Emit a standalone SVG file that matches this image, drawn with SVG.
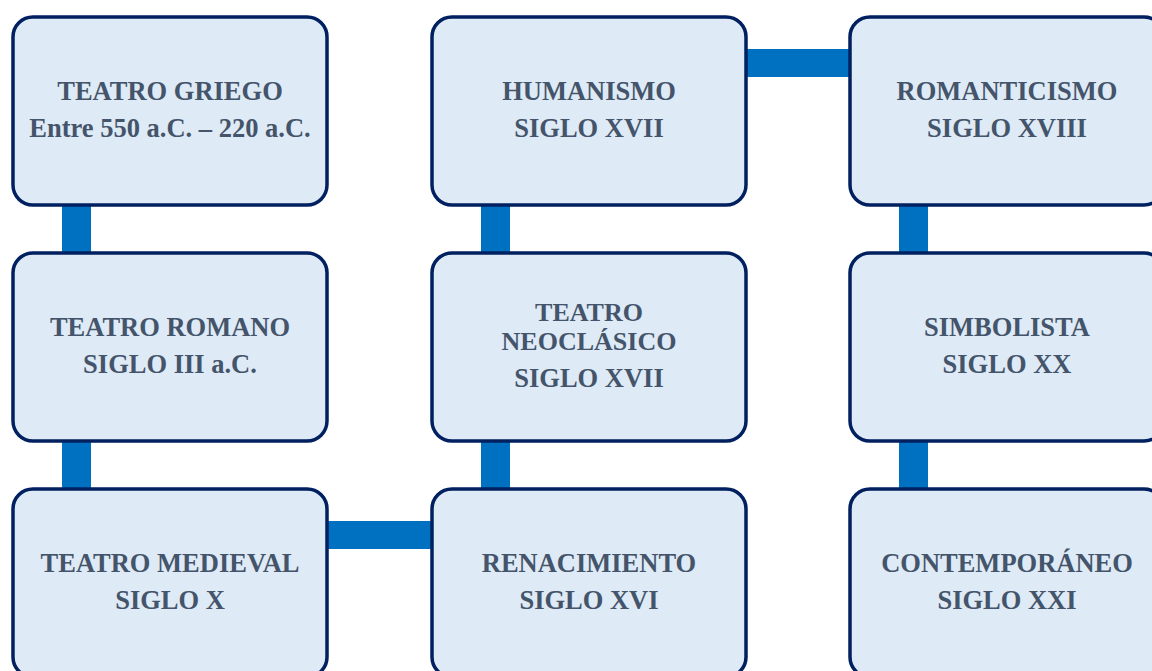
<svg xmlns="http://www.w3.org/2000/svg" width="1152" height="671" viewBox="0 0 1152 671">
<style>
.box{fill:#DEEAF6;stroke:#002060;stroke-width:3.5}
.con{fill:#0070C0}
text{font-family:"Liberation Serif","Times New Roman",serif;font-weight:bold;font-size:26.5px;fill:#44546A;text-anchor:middle}
.tight{font-size:26px}
</style>
<rect width="1152" height="671" fill="#FFFFFF"/>
<g id="connectors">
<rect class="con" x="62" y="200" width="29" height="58"/>
<rect class="con" x="62" y="436" width="29" height="58"/>
<rect class="con" x="322" y="521" width="115" height="28"/>
<rect class="con" x="481" y="436" width="29" height="58"/>
<rect class="con" x="481" y="200" width="29" height="58"/>
<rect class="con" x="740" y="49" width="115" height="28"/>
<rect class="con" x="899" y="200" width="29" height="58"/>
<rect class="con" x="899" y="436" width="29" height="58"/>
</g>
<g id="griego">
<rect class="box" x="13" y="17" width="314" height="188" rx="20"/>
<text x="170" y="100">TEATRO GRIEGO</text>
<text x="170" y="137">Entre 550 a.C. – 220 a.C.</text>
</g>
<g id="romano">
<rect class="box" x="13" y="253" width="314" height="188" rx="20"/>
<text x="170" y="336">TEATRO ROMANO</text>
<text x="170" y="373">SIGLO III a.C.</text>
</g>
<g id="medieval">
<rect class="box" x="13" y="489" width="314" height="188" rx="20"/>
<text x="170" y="572">TEATRO MEDIEVAL</text>
<text x="170" y="609">SIGLO X</text>
</g>
<g id="humanismo">
<rect class="box" x="432" y="17" width="314" height="188" rx="20"/>
<text x="589" y="100">HUMANISMO</text>
<text x="589" y="137">SIGLO XVII</text>
</g>
<g id="neoclasico">
<rect class="box" x="432" y="253" width="314" height="188" rx="20"/>
<text class="tight" x="589" y="321">TEATRO</text>
<text class="tight" x="589" y="350">NEOCLÁSICO</text>
<text x="589" y="387">SIGLO XVII</text>
</g>
<g id="renacimiento">
<rect class="box" x="432" y="489" width="314" height="188" rx="20"/>
<text x="589" y="572">RENACIMIENTO</text>
<text x="589" y="609">SIGLO XVI</text>
</g>
<g id="romanticismo">
<rect class="box" x="850" y="17" width="314" height="188" rx="20"/>
<text x="1007" y="100">ROMANTICISMO</text>
<text x="1007" y="137">SIGLO XVIII</text>
</g>
<g id="simbolista">
<rect class="box" x="850" y="253" width="314" height="188" rx="20"/>
<text x="1007" y="336">SIMBOLISTA</text>
<text x="1007" y="373">SIGLO XX</text>
</g>
<g id="contemporaneo">
<rect class="box" x="850" y="489" width="314" height="188" rx="20"/>
<text x="1007" y="572">CONTEMPORÁNEO</text>
<text x="1007" y="609">SIGLO XXI</text>
</g>
</svg>
